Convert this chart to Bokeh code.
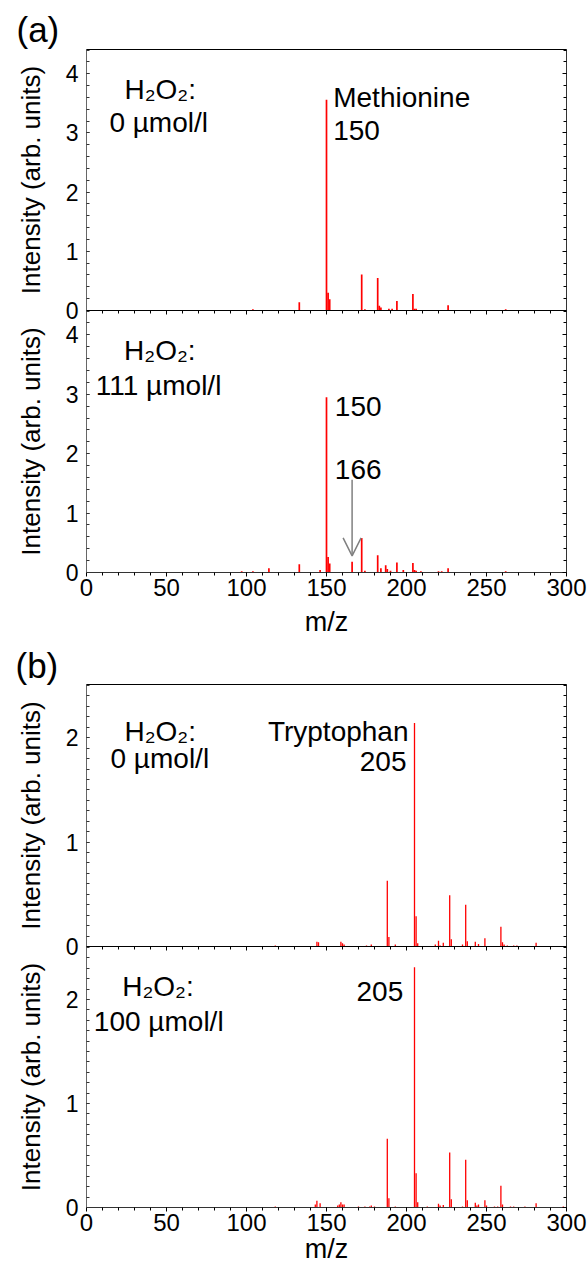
from bokeh.plotting import figure
from bokeh.models import (Range1d, LinearAxis, SingleIntervalTicker, Label, Arrow,
                          OpenHead, GridBox)
from bokeh.embed import file_html
from bokeh.resources import INLINE

FONT = "Liberation Sans"

# ---------------- data ----------------
met0_mz = [34, 50, 83, 91, 104, 133, 150, 151, 152, 172, 174, 182, 183, 184,
           189, 191, 194, 204, 205, 206, 226, 262, 275]
met0_int = [0.005, 0.005, 0.01, 0.01, 0.02, 0.14, 3.56, 0.30, 0.19, 0.61, 0.02,
            0.55, 0.08, 0.05, 0.03, 0.03, 0.16, 0.28, 0.03, 0.03, 0.09, 0.02, 0.01]

met111_mz = [50, 91, 97, 104, 114, 133, 146, 150, 151, 152, 166, 172, 174, 182,
             184, 187, 188, 190, 194, 198, 204, 205, 206, 209, 220, 222, 226, 262, 275]
met111_int = [0.01, 0.01, 0.02, 0.02, 0.07, 0.14, 0.04, 2.95, 0.26, 0.15, 0.18,
              0.58, 0.03, 0.29, 0.07, 0.12, 0.06, 0.03, 0.17, 0.04, 0.16, 0.04,
              0.03, 0.02, 0.02, 0.02, 0.07, 0.02, 0.01]

trp0_mz = [38, 118, 144, 145, 159, 160, 161, 175, 178, 188, 189, 193, 205, 206,
           207, 218, 220, 221, 223, 227, 228, 235, 237, 238, 243, 245, 249, 259,
           260, 261, 263, 267, 269, 281]
trp0_int = [0.005, 0.01, 0.045, 0.04, 0.045, 0.03, 0.02, 0.01, 0.02, 0.63, 0.09,
            0.02, 2.14, 0.29, 0.03, 0.02, 0.055, 0.01, 0.035, 0.49, 0.07, 0.02,
            0.40, 0.05, 0.045, 0.025, 0.08, 0.19, 0.04, 0.02, 0.01, 0.01, 0.01, 0.035]

trp100_mz = [38, 118, 143, 144, 146, 157, 158, 159, 160, 161, 170, 174, 177, 178,
             180, 188, 189, 193, 205, 206, 207, 213, 220, 221, 223, 227, 228, 235,
             237, 238, 243, 244, 245, 249, 250, 255, 257, 259, 260, 265, 267, 274,
             281, 298]
trp100_int = [0.005, 0.01, 0.03, 0.065, 0.04, 0.02, 0.03, 0.05, 0.03, 0.03, 0.01,
              0.01, 0.01, 0.02, 0.01, 0.66, 0.09, 0.01, 2.31, 0.33, 0.05, 0.01,
              0.035, 0.02, 0.025, 0.53, 0.08, 0.01, 0.46, 0.07, 0.045, 0.02, 0.03,
              0.07, 0.02, 0.01, 0.01, 0.21, 0.03, 0.01, 0.01, 0.01, 0.04, 0.01]

x_span = (0, 300)
y_max_a = 4.41
y_max_b = 2.51

RED = "#ff0000"
GRAY = "#808080"


def make_panel(height, left, right, top, bottom, ymax, nminor, mz, inten, lw,
               with_xlabels, with_top_ticks, xstandoff=2, xlabel_standoff=3,
               transparent=False, title=None, title_offset=0, title_standoff=0):
    p = figure(width=588, height=height, x_range=Range1d(*x_span),
               y_range=Range1d(0, ymax), output_backend="svg",
               toolbar_location=None,
               x_axis_location="below" if with_xlabels else None,
               min_border_left=left, min_border_right=right,
               min_border_top=top, min_border_bottom=bottom)
    p.grid.visible = False
    if transparent:
        p.background_fill_color = None
        p.border_fill_color = None
    else:
        p.background_fill_color = "white"
        p.border_fill_color = "white"
    p.outline_line_color = "black"
    p.outline_line_width = 1

    if title is not None:
        p.title.text = title
        p.title.text_font = FONT
        p.title.text_font_size = "35px"
        p.title.text_font_style = "normal"
        p.title.text_color = "black"
        p.title.align = "left"
        p.title.vertical_align = "bottom"
        p.title.offset = title_offset
        p.title.standoff = title_standoff

    ya = p.yaxis[0]
    ya.ticker = SingleIntervalTicker(interval=1, num_minor_ticks=nminor)
    ya.axis_label = "Intensity (arb. units)"
    ya.axis_label_text_font = FONT
    ya.axis_label_text_font_size = "26px"
    ya.axis_label_text_font_style = "normal"
    ya.axis_label_text_color = "black"
    ya.axis_label_standoff = 17
    ya.major_label_text_font = FONT
    ya.major_label_text_font_size = "23px"
    ya.major_label_text_color = "black"
    ya.major_label_standoff = 8
    ya.major_tick_in = 3
    ya.major_tick_out = 0
    ya.minor_tick_in = 3
    ya.minor_tick_out = 0
    ya.axis_line_color = "#666666"
    ya.major_tick_line_color = "#333333"
    ya.minor_tick_line_color = "#333333"

    ra = LinearAxis(ticker=SingleIntervalTicker(interval=1, num_minor_ticks=nminor))
    ra.major_label_text_color = None
    ra.major_label_text_font_size = "0px"
    ra.major_label_standoff = 0
    ra.major_tick_in = 4
    ra.major_tick_out = 0
    ra.minor_tick_in = 3
    ra.minor_tick_out = 0
    ra.axis_line_color = "#333333"
    p.add_layout(ra, "right")

    if with_xlabels:
        xa = p.xaxis[0]
        xa.ticker = SingleIntervalTicker(interval=50, num_minor_ticks=5)
        xa.axis_label = "m/z"
        xa.axis_label_text_font = FONT
        xa.axis_label_text_font_size = "27px"
        xa.axis_label_text_font_style = "normal"
        xa.axis_label_text_color = "black"
        xa.axis_label_standoff = xlabel_standoff
        xa.major_label_text_font = FONT
        xa.major_label_text_font_size = "24px"
        xa.major_label_text_color = "black"
        xa.major_label_standoff = xstandoff
        xa.major_tick_in = 0
        xa.major_tick_out = 4
        xa.minor_tick_in = 0
        xa.minor_tick_out = 3
        xa.axis_line_color = "#333333"

    if with_top_ticks:
        ta = LinearAxis(ticker=SingleIntervalTicker(interval=50, num_minor_ticks=5))
        ta.major_label_text_color = None
        ta.major_label_text_font_size = "0px"
        ta.major_label_standoff = 0
        ta.major_tick_in = 4
        ta.major_tick_out = 0
        ta.minor_tick_in = 3
        ta.minor_tick_out = 0
        ta.axis_line_color = "black"
        p.add_layout(ta, "above")

    p.segment(x0=mz, y0=[0] * len(mz), x1=mz, y1=inten, line_color=RED, line_width=lw)
    return p


def add_text(p, x, y, text, align="left", size="28px"):
    p.add_layout(Label(x=x, y=y, text=text, text_font=FONT, text_font_size=size,
                       text_color="black", text_align=align,
                       text_baseline="alphabetic"))


# (a) upper: Methionine, 0 umol/l   (canvas 0..324, frame 49..310)
pa1 = make_panel(324, 84, 22, 49, 14, y_max_a, 5, met0_mz, met0_int, 1.7,
                 False, False, title="(a)", title_offset=-70, title_standoff=2)
add_text(pa1, 23.7, 3.73, "H₂O₂:")
add_text(pa1, 14.3, 3.18, "0 µmol/l")
add_text(pa1, 154.2, 3.60, "Methionine")
add_text(pa1, 154.2, 3.04, "150")

# (a) lower: 111 umol/l   (canvas 310..648, frame 310..572)
pa2 = make_panel(338, 84, 22, 0, 76, y_max_a, 5, met111_mz, met111_int, 1.7,
                 True, True, xstandoff=2, xlabel_standoff=8, transparent=True)
add_text(pa2, 23.5, 3.74, "H₂O₂:")
add_text(pa2, 5.8, 3.15, "111 µmol/l")
add_text(pa2, 155.2, 2.79, "150")
add_text(pa2, 155.2, 1.74, "166")
pa2.add_layout(Arrow(end=OpenHead(size=18, line_color=GRAY, line_width=1.5),
                     x_start=166, y_start=1.56, x_end=166, y_end=0.28,
                     line_color=GRAY, line_width=1.5))

# (b) upper: Tryptophan, 0 umol/l   (canvas 640..960, frame 684..946)
pb1 = make_panel(320, 86, 21, 44, 14, y_max_b, 10, trp0_mz, trp0_int, 1.3,
                 False, False, transparent=True,
                 title="(b)", title_offset=-71, title_standoff=0)
add_text(pb1, 23.75, 2.06, "H₂O₂:")
add_text(pb1, 15.0, 1.80, "0 µmol/l")
add_text(pb1, 201.25, 2.06, "Tryptophan", align="right")
add_text(pb1, 200.0, 1.77, "205", align="right")

# (b) lower: 100 umol/l   (canvas 946..1272, frame 946..1207)
pb2 = make_panel(326, 86, 21, 0, 65, y_max_b, 10, trp100_mz, trp100_int, 1.3,
                 True, True, xstandoff=2, xlabel_standoff=0, transparent=True)
add_text(pb2, 22.3, 2.13, "H₂O₂:")
add_text(pb2, 4.6, 1.79, "100 µmol/l")
add_text(pb2, 168.75, 2.08, "205")

layout = GridBox(
    children=[(pa1, 0, 0, 2, 1), (pa2, 1, 0, 3, 1),
              (pb1, 3, 0, 3, 1), (pb2, 5, 0, 2, 1)],
    rows=["310px", "14px", "316px", "8px", "298px", "14px", "312px"],
    cols=["588px"],
    spacing=0,
)

open("out.html", "w").write(file_html(layout, INLINE))
